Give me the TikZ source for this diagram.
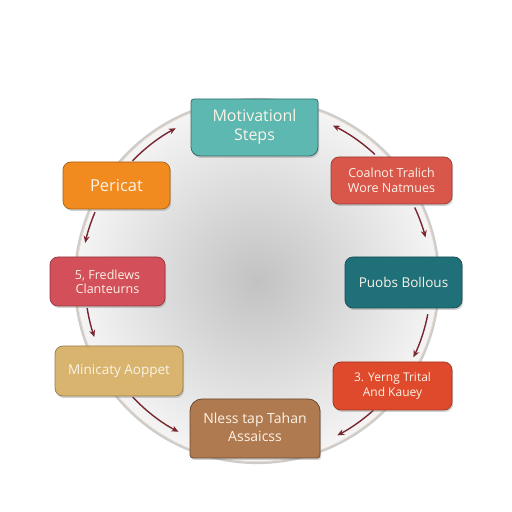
\documentclass[tikz,border=0pt]{standalone}
\usepackage{fontspec}
\setmainfont{Open Sans}
\usetikzlibrary{arrows.meta,shadows,calc}
\definecolor{cteal}{HTML}{5CB8B0}
\definecolor{cdteal}{HTML}{20707A}
\definecolor{cred}{HTML}{D9564B}
\definecolor{cpink}{HTML}{D34F5A}
\definecolor{corange}{HTML}{F18A1F}
\definecolor{ctan}{HTML}{D8B46E}
\definecolor{cvermil}{HTML}{E04A2C}
\definecolor{cbrown}{HTML}{B07A50}
\definecolor{carrow}{HTML}{7A2630}
\definecolor{ctext}{HTML}{FBF3E6}
\tikzset{
  stepbox/.style={rectangle, rounded corners=8pt, draw=#1!70!black, line width=0.7pt,
    fill=#1, text=ctext, align=center, inner sep=2pt,
    drop shadow={opacity=0.35, shadow xshift=1.2pt, shadow yshift=-2pt}},
  tabshape/.style={fill=#1, draw=#1!60!black, line width=0.8pt,
    drop shadow={opacity=0.35, shadow xshift=1.2pt, shadow yshift=-2pt}},
  label/.style={text=ctext, align=center, inner sep=0pt},
  arr/.style={draw=carrow, line width=1.4pt, -{Stealth[length=7pt,width=6pt]}},
}
\begin{document}
\begin{tikzpicture}[x=1pt,y=1pt]
\useasboundingbox (0,0) rectangle (512,512);
\fill[white] (0,0) rectangle (512,512);
\coordinate (O) at (257,231);
% big ring
\shade[inner color=black!24, outer color=black!4] (O) circle[radius=182];
\draw[black!20, line width=2.2pt] (O) circle[radius=182];
\draw[brown!35, line width=0.5pt] (O) circle[radius=180.5];
% arrows
\coordinate (s1) at ($(O)+(136:173)$);
\coordinate (s2) at ($(O)+(47:173)$);
\coordinate (s3) at ($(O)+(25:174)$);
\coordinate (s4) at ($(O)+(-11:174)$);
\coordinate (s5) at ($(O)+(-48:174)$);
\coordinate (s6) at ($(O)+(223:170)$);
\coordinate (s7) at ($(O)+(189:172)$);
\coordinate (s8) at ($(O)+(157:176)$);
\draw[arr] (s1) arc[start angle=136, end angle=118, radius=173];
\draw[arr] (s2) arc[start angle=47, end angle=64, radius=173];
\draw[arr] (s3) arc[start angle=25, end angle=14.5, radius=174];
\draw[arr] (s4) arc[start angle=-11, end angle=-26, radius=174];
\draw[arr] (s5) arc[start angle=-48, end angle=-62.5, radius=174];
\draw[arr] (s6) arc[start angle=223, end angle=242.5, radius=170];
\draw[arr] (s7) arc[start angle=189, end angle=199, radius=172];
\draw[arr] (s8) arc[start angle=157, end angle=167.5, radius=176];
% top tab box
\path[tabshape=cteal] (194,413) -- (315,413) arc[start angle=90, end angle=0, radius=3]
  -- (318,365) arc[start angle=0, end angle=-90, radius=9]
  -- (200,356) arc[start angle=270, end angle=180, radius=9]
  -- (191,410) arc[start angle=180, end angle=90, radius=3] -- cycle;
\node[label, font=\fontsize{16}{19}\selectfont] (mot) at (254.5,385) {Motivationl\\Steps};
% bottom tab box
\path[tabshape=cbrown] (202,113) -- (308,113) arc[start angle=90, end angle=0, radius=12]
  -- (320,57) arc[start angle=0, end angle=-90, radius=3]
  -- (193,54) arc[start angle=270, end angle=180, radius=3]
  -- (190,101) arc[start angle=180, end angle=90, radius=12] -- cycle;
\node[label, font=\fontsize{14}{18}\selectfont] (nle) at (255,85) {Nless tap Tahan\\Assaicss};
% side boxes
\node[stepbox=cred, minimum width=121pt, minimum height=47pt, font=\fontsize{12.5}{15}\selectfont] (coa) at (391.5,331.5) {Coalnot Tralich\\Wore Natmues};
\node[stepbox=corange, minimum width=107pt, minimum height=47pt, font=\fontsize{16.5}{18}\selectfont] (per) at (116.5,326.5) {Pericat};
\node[stepbox=cpink, minimum width=115pt, minimum height=49pt, font=\fontsize{12.5}{14}\selectfont] (fre) at (107.5,230.5) {5, Fredlews\\Clanteurns};
\node[stepbox=cdteal, minimum width=117pt, minimum height=51pt, font=\fontsize{13.5}{15}\selectfont] (puo) at (403.5,229.5) {Puobs Bollous};
\node[stepbox=ctan, minimum width=128pt, minimum height=50pt, font=\fontsize{13.5}{15}\selectfont] (min) at (119,141) {Minicaty Aoppet};
\node[stepbox=cvermil, minimum width=119pt, minimum height=48pt, font=\fontsize{12}{15}\selectfont] (yer) at (392.5,126) {3. Yerng Trital\\And Kauey};
\end{tikzpicture}
\end{document}
